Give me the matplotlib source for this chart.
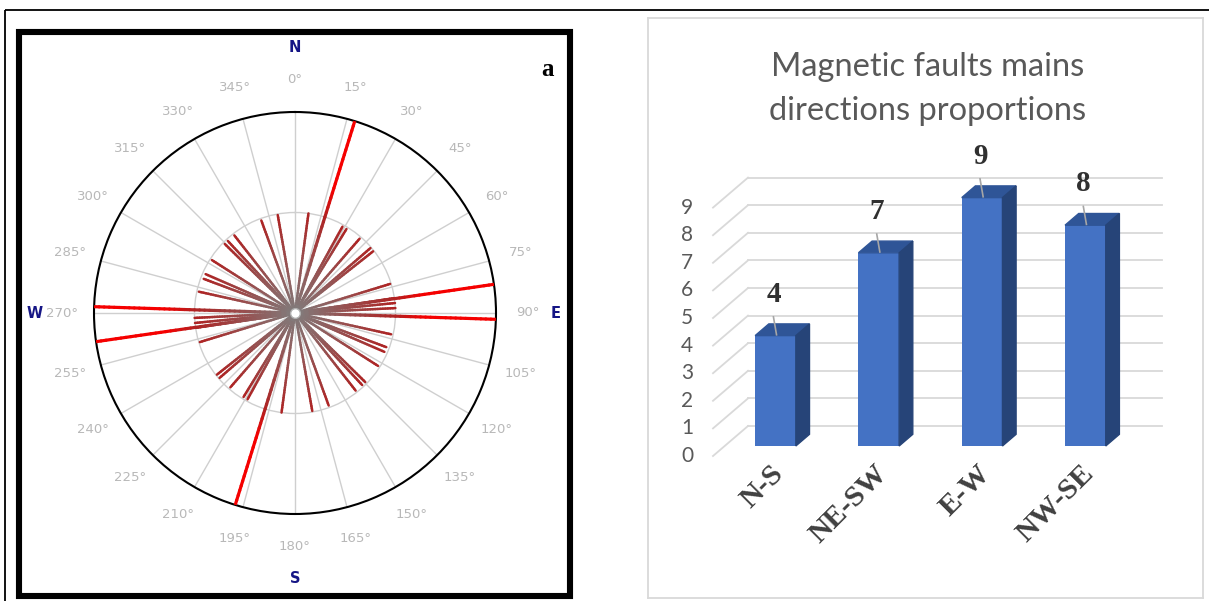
import numpy as np
import matplotlib
matplotlib.use("Agg")
import matplotlib.pyplot as plt
from matplotlib.collections import LineCollection
from matplotlib.patches import Rectangle

# ---------------- data: rose diagram (panel a) ----------------
short_dirs = [7.7, 28.8, 31.5, 41.0, 49.3, 51.7, 73.0, 81.5, 84.3, 87.2,
              102.5, 110.5, 113.5, 122.5, 134.5, 137.0, 142.0, 160.0, 170.0]
short_lens = [0.50, 0.49, 0.49, 0.49, 0.495, 0.495, 0.495, 0.50, 0.50, 0.50,
              0.49, 0.485, 0.485, 0.49, 0.49, 0.49, 0.49, 0.49, 0.495]
long_dirs = [17.3, 81.8, 91.8]
long_lens = [1.0, 1.0, 1.0]
degree_ticks = list(range(0, 360, 15))
cardinals = ["N", "E", "S", "W"]
cardinal_angles = [0, 90, 180, 270]

# ---------------- data: bar chart (panel b) ----------------
categories = ["N-S", "NE-SW", "E-W", "NW-SE"]
counts = [4, 7, 9, 8]
y_ticks = list(range(0, 10))
title_lines = ["Magnetic faults mains", "directions proportions"]

W, H = 1209, 601
fig = plt.figure(figsize=(W / 100, H / 100), dpi=100)

# background frames
bg = fig.add_axes([0, 0, 1, 1])
bg.set_xlim(0, W)
bg.set_ylim(H, 0)
bg.axis("off")
bg.add_patch(Rectangle((5, 9.5), W + 20, H + 30, fill=False, ec="black", lw=1.3))
bg.add_patch(Rectangle((19, 32), 551, 564, fill=False, ec="black", lw=4.4))
bg.text(547, 69, "a", family="Liberation Serif", weight="bold", fontsize=18,
        ha="center", va="center", color="black")
bg.text(1186, 51, "b", family="Liberation Serif", weight="bold", fontsize=18,
        ha="center", va="center", color="black")

# ---------------- panel a: rose diagram ----------------
cx, cy, R = 295, 313, 201
ax = fig.add_axes([(cx - R) / W, (H - cy - R) / H, 2 * R / W, 2 * R / H],
                  projection="polar")
ax.set_theta_zero_location("N")
ax.set_theta_direction(-1)
ax.set_ylim(0, 1)
ax.set_xticks(np.deg2rad(degree_ticks))
ax.set_xticklabels([])
ax.set_yticks([0.5])
ax.set_yticklabels([])
ax.grid(True, color="#cfcfcf", lw=1.0)
ax.tick_params(length=0)
ax.spines["polar"].set_color("black")
ax.spines["polar"].set_linewidth(1.5)

gray = np.array([0.50, 0.50, 0.50])
dark_red = np.array([0.68, 0.14, 0.14])
bright_red = np.array([0.96, 0.0, 0.0])


def short_color(t):
    return gray + (dark_red - gray) * t ** 1.0


def long_color(t):
    if t < 0.5:
        return gray + (dark_red - gray) * (t / 0.5) ** 1.0
    u = min(1.0, (t - 0.5) / 0.15)
    return dark_red + (bright_red - dark_red) * u


def add_petals(dirs, lens, cfun, lw, n=40):
    segs, cols = [], []
    for d, L in zip(dirs, lens):
        for th_deg in (d, d + 180):
            th = np.deg2rad(th_deg)
            r = np.linspace(0, L, n + 1)
            for k in range(n):
                segs.append([(th, r[k]), (th, r[k + 1])])
                cols.append(cfun((r[k] + r[k + 1]) / 2 / L))
    lc = LineCollection(segs, colors=cols, linewidths=lw, capstyle="round",
                        transform=ax.transData, zorder=3)
    ax.add_collection(lc)


add_petals(short_dirs, short_lens, short_color, 1.8)
add_petals(long_dirs, long_lens, long_color, 2.3)
ax.plot([0], [0], "o", ms=7, mfc="white", mec="#b0b0b0", mew=1, zorder=6)

for a in degree_ticks:
    ax.text(np.deg2rad(a), 1.16, f"{a}°", ha="center", va="center",
            color="#b8b8b8", fontsize=9.5, clip_on=False)
for lab, a in zip(cardinals, cardinal_angles):
    rr = 1.32 if a in (0, 180) else 1.295
    ax.text(np.deg2rad(a), rr, lab, ha="center", va="center", color="#151585",
            fontsize=10.5, weight="bold", clip_on=False)

# ---------------- panel b: pseudo-3D bar chart ----------------
px0, px1, py0, py1 = 648, 1203, 18, 598
cat_px, x0_px, val_px, y0_px = 103.3, 775.5, 27.6, 446
bx = fig.add_axes([px0 / W, (H - py1) / H, (px1 - px0) / W, (py1 - py0) / H])
bx.set_xlim((px0 - x0_px) / cat_px, (px1 - x0_px) / cat_px)
bx.set_ylim((y0_px - py1) / val_px, (y0_px - py0) / val_px)
bx.set_xticks([])
bx.set_yticks([])
for s in bx.spines.values():
    s.set_color("#d9d9d9")
    s.set_linewidth(1.3)

ddx, ddy = 35 / cat_px, 30 / val_px       # full depth of the floor
front_f, back_f = -1 / 3, 2 / 3           # floor front / back wall relative to bar front
wall_x = -0.605                           # left wall front x
grid_right = 3.742
bar_w = 0.394
bar_depth = 0.39
grid_col = "#d9d9d9"

for v in y_ticks:
    bx.plot([wall_x + ddx, grid_right], [v + back_f * ddy] * 2, color=grid_col, lw=1.3, zorder=1)
    bx.plot([wall_x, wall_x + ddx], [v + front_f * ddy, v + back_f * ddy], color=grid_col,
            lw=1.3, zorder=1)
    bx.text(-0.857, v + front_f * ddy, str(v), ha="center", va="center",
            family="Lato", fontsize=15, color="#595959")

xs = np.arange(len(categories))
bdx, bdy = bar_depth * ddx, bar_depth * ddy
front_c, top_c, side_c = "#4472c4", "#2f5597", "#264478"
bx.bar(xs, counts, width=bar_w, color=front_c, zorder=3)
for i, v in zip(xs, counts):
    xl, xr = i - bar_w / 2, i + bar_w / 2
    bx.fill([xl, xr, xr + bdx, xl + bdx], [v, v, v + bdy, v + bdy], color=top_c, zorder=3)
    bx.fill([xr, xr + bdx, xr + bdx, xr], [0, bdy, v + bdy, v], color=side_c, zorder=3)
    bx.plot([i - 0.02, i + 0.01], [v + 0.68, v + 0.03], color="#a6a6a6", lw=1.2, zorder=4)
    bx.text(i - 0.02, v + 1.5, str(v), ha="center", va="center",
            family="Liberation Serif", weight="bold", fontsize=21, color="#303030")

for i, lab in zip(xs, categories):
    bx.text(i + 0.04, -0.85, lab, rotation=45, rotation_mode="anchor",
            ha="right", va="center", family="Liberation Serif", weight="bold",
            fontsize=21.5, color="#404040")

for k, line in enumerate(title_lines):
    bx.text(1.476, 13.72 - 1.6 * k, line, ha="center", va="center",
            family="Lato", fontsize=23.5, color="#595959")

fig.savefig("out.png", dpi=100)
